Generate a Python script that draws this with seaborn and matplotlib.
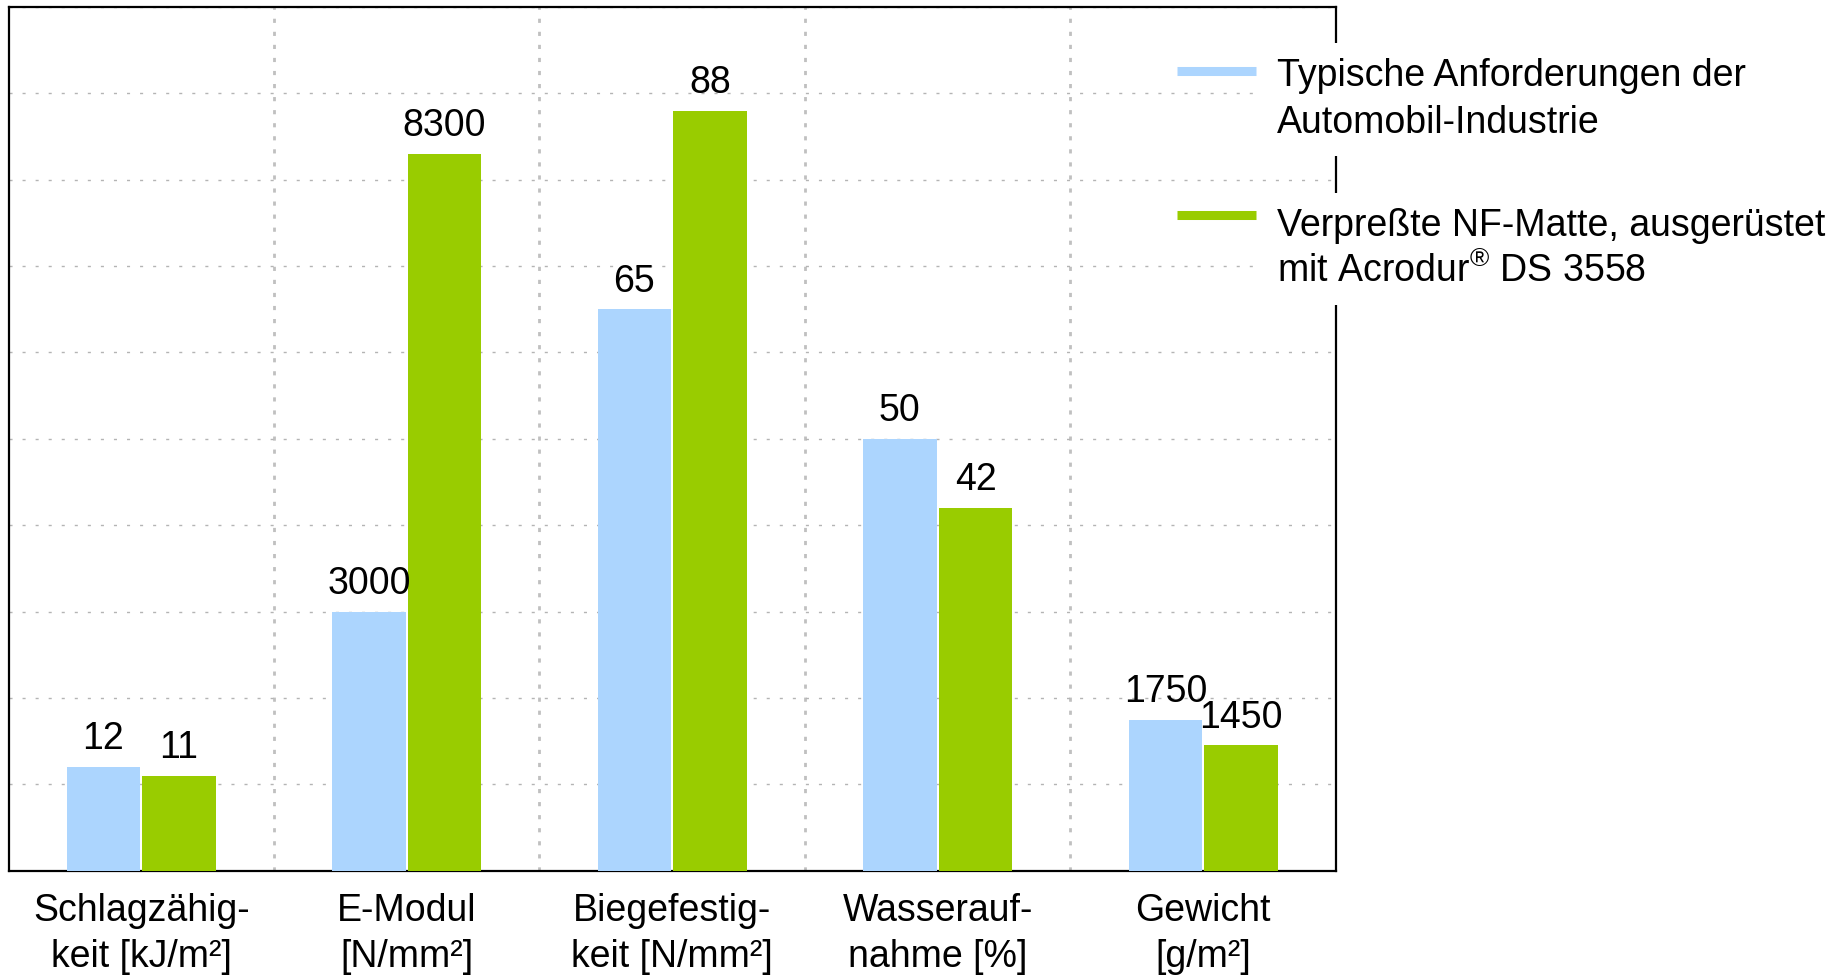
import matplotlib
matplotlib.use("Agg")
import matplotlib.pyplot as plt
from matplotlib.lines import Line2D
import pandas as pd
import seaborn as sns

# ---- data -------------------------------------------------------------
categories = [
    "Schlagzähig-\nkeit [kJ/m²]",
    "E-Modul\n[N/mm²]",
    "Biegefestig-\nkeit [N/mm²]",
    "Wasserauf-\nnahme [%]",
    "Gewicht\n[g/m²]",
]
series_names = [
    "Typische Anforderungen der\nAutomobil-Industrie",
    "Verpreßte NF-Matte, ausgerüstet\nmit Acrodur$^{®}$ DS 3558",
]
typical_requirements = [12, 3000, 65, 50, 1750]
nf_mat_acrodur = [11, 8300, 88, 42, 1450]
# every property has its own scale: bar height = value / divisor
scale_divisors = [1, 100, 1, 1, 100]
colors = ["#acd5fe", "#99cc00"]

# ---- style ------------------------------------------------------------
sns.set_style("white")
plt.rcParams["font.family"] = ["Liberation Sans", "DejaVu Sans"]
plt.rcParams["mathtext.fontset"] = "custom"
plt.rcParams["mathtext.rm"] = "Liberation Sans"
plt.rcParams["mathtext.it"] = "Liberation Sans:italic"
plt.rcParams["mathtext.bf"] = "Liberation Sans:bold"
plt.rcParams["text.color"] = "black"
plt.rcParams["xtick.color"] = "black"
FS = 27
LS = 1.37

rows = []
for name, values in zip(series_names, [typical_requirements, nf_mat_acrodur]):
    for cat, v, div in zip(categories, values, scale_divisors):
        rows.append({"Merkmal": cat, "Serie": name, "Wert": v, "Hoehe": v / div})
df = pd.DataFrame(rows)

W, H = 1837, 976
fig = plt.figure(figsize=(W / 100, H / 100), dpi=100)
ax = fig.add_axes([8.5 / W, 1 - 870.7 / H, (1336 - 8.5) / W, (870.7 - 7) / H])

sns.barplot(
    data=df, x="Merkmal", y="Hoehe", hue="Serie",
    order=categories, hue_order=series_names, palette=colors,
    saturation=1, width=0.57, gap=0.03, errorbar=None,
    linewidth=0, edgecolor="none", legend=False, ax=ax, zorder=3,
)

# value labels above the bars
for container, values in zip(ax.containers, [typical_requirements, nf_mat_acrodur]):
    ax.bar_label(container, labels=[str(v) for v in values], padding=7, fontsize=FS)

# axes, grid
ax.set_xlim(-0.5, len(categories) - 0.5)
ax.set_ylim(0, 100)
ax.set_yticks(range(0, 101, 10))
ax.set_xticks([i + 0.5 for i in range(len(categories) - 1)], minor=True)
ax.grid(False)
ax.yaxis.grid(True, which="major", color="#b4b4b4", linewidth=1.0,
              linestyle=(0, (2.2, 7.2)))
ax.xaxis.grid(True, which="minor", color="#c0c0c0", linewidth=2.0,
              linestyle=(0, (1.5, 3.2)))
ax.set_axisbelow(True)
ax.tick_params(axis="both", which="both", length=0)
ax.tick_params(axis="y", labelleft=False)
ax.tick_params(axis="x", labelsize=FS, pad=16)
ax.set_xlabel("")
ax.set_ylabel("")
for lbl in ax.get_xticklabels():
    lbl.set_linespacing(LS)
for s in ax.spines.values():
    s.set_visible(True)
    s.set_color("black")
    s.set_linewidth(1.6)

# legend: line handle next to a white-backed label block
hx0, hx1 = 1176.7 / W, 1256 / W
for name, color, y_line, y_text, ls in zip(series_names, colors, [70.5, 215],
                                           [58.3, 208.3], [LS, 1.25]):
    fig.add_artist(Line2D([hx0, hx1], [1 - y_line / H] * 2, color=color,
                          linewidth=6.5, solid_capstyle="butt"))
    fig.text(1276.7 / W, 1 - y_text / H, name, fontsize=FS, va="top", ha="left",
             linespacing=ls,
             bbox=dict(boxstyle="square,pad=0.4", facecolor="white", edgecolor="none"))

fig.savefig("out.png", dpi=100)
